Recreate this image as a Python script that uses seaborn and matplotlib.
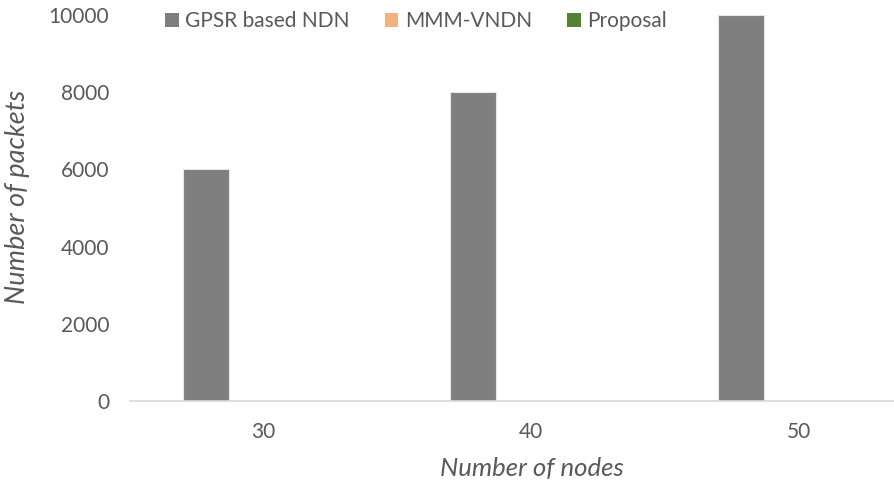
import numpy as np
import pandas as pd
import matplotlib
matplotlib.use("Agg")
import matplotlib.pyplot as plt
from matplotlib.patches import Patch
import seaborn as sns

# -------------------------
# Data
# -------------------------
nodes = ["30", "40", "50"]
series = ["GPSR based NDN", "MMM-VNDN", "Proposal"]
gpsr_packets = [6000, 8000, 10000]
mmm_packets = [0, 0, 0]
proposal_packets = [0, 0, 0]
colors = ["#7f7f7f", "#f4b183", "#548235"]

df = pd.DataFrame({
    "nodes": nodes * 3,
    "series": np.repeat(series, len(nodes)),
    "packets": gpsr_packets + mmm_packets + proposal_packets,
})

sns.set_style("white")
plt.rcParams["font.family"] = ["Lato", "DejaVu Sans"]
text_col = "#595959"

fig = plt.figure(figsize=(8.94, 4.84), dpi=100)
# axes deliberately runs past the right edge (the reference is cropped)
ax = fig.add_axes([130 / 894, 1 - 401 / 484, 802.5 / 894, 386 / 484])

sns.barplot(data=df, x="nodes", y="packets", hue="series", order=nodes,
            hue_order=series, palette=colors, width=0.648, gap=0.204,
            edgecolor="#e6e6e6", linewidth=0.8, saturation=1, legend=False, ax=ax)

# hide outlines of zero-height bars
for p in ax.patches:
    if p.get_height() == 0:
        p.set_linewidth(0)

ax.set_ylim(0, 10000)
ax.set_xlim(-0.5, 2.5)
ax.set_yticks([0, 2000, 4000, 6000, 8000, 10000])

for s in ["top", "right", "left"]:
    ax.spines[s].set_visible(False)
ax.spines["bottom"].set_color("#d9d9d9")
ax.spines["bottom"].set_linewidth(1.2)

ax.tick_params(axis="y", length=0, pad=15, labelsize=15, labelcolor=text_col)
ax.tick_params(axis="x", which="major", length=0, pad=15, labelsize=15, labelcolor=text_col)
ax.set_xticks([-0.5, 0.5, 1.5], minor=True)
ax.tick_params(axis="x", which="minor", length=6, width=1.2, color="#d9d9d9")

ax.set_xlabel("Number of nodes", fontsize=18.5, style="italic", color=text_col)
ax.set_ylabel("Number of packets", fontsize=19.5, style="italic", color=text_col)
ax.xaxis.set_label_coords((532 - 130) / 802.5, -0.145)
ax.yaxis.set_label_coords(-0.124, 0.53)

handles = [Patch(facecolor=c, edgecolor="none") for c in colors]
fig.legend(handles, series, loc="center", bbox_to_anchor=(416 / 894, 1 - 21 / 484),
           ncol=3, frameon=False, fontsize=15, labelcolor=text_col,
           handlelength=0.65, handleheight=0.65, handletextpad=0.3, columnspacing=1.7)

fig.savefig("out.png", dpi=100)
